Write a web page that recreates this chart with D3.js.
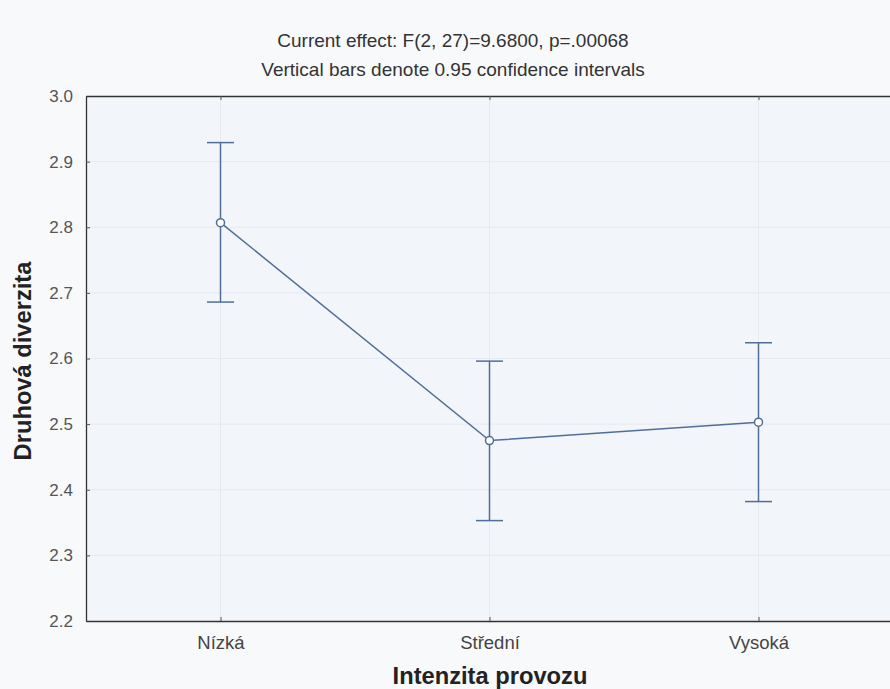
<!DOCTYPE html>
<html><head><meta charset="utf-8">
<script src="https://cdn.jsdelivr.net/npm/d3@7"></script>
<style>body{margin:0;background:#f8f9fb;}svg{display:block;}</style>
</head><body>
<svg id="c" width="890" height="689"></svg>
<script>
const categories = ["Nízká", "Střední", "Vysoká"];
const means = [2.807, 2.475, 2.503];
const upper = [2.929, 2.596, 2.624];
const lower = [2.686, 2.353, 2.382];
const yTicks = [2.2, 2.3, 2.4, 2.5, 2.6, 2.7, 2.8, 2.9, 3.0];
const titleLines = ["Current effect: F(2, 27)=9.6800, p=.00068", "Vertical bars denote 0.95 confidence intervals"];
const xTitle = "Intenzita provozu";
const yTitle = "Druhová diverzita";

const svg = d3.select("#c");
const L = 86, R = 893, T = 96, B = 621;
const font = "'Liberation Sans', Arial, sans-serif";
const lineColor = "#4f6f98";

svg.append("rect").attr("x",0).attr("y",0).attr("width",890).attr("height",689).attr("fill","#f8f9fb");
svg.append("rect").attr("x",L).attr("y",T).attr("width",R-L).attr("height",B-T).attr("fill","#f2f5fa");

const x = d3.scalePoint().domain(categories).range([L, R]).padding(0.5);
const y = d3.scaleLinear().domain([2.2, 3.0]).range([B, T]);

// grid
svg.append("g").selectAll("line").data(yTicks.slice(1,-1)).join("line")
  .attr("x1",L).attr("x2",R).attr("y1",d=>y(d)).attr("y2",d=>y(d))
  .attr("stroke","#e6e9ef").attr("stroke-width",1);
svg.append("g").selectAll("line").data(categories).join("line")
  .attr("x1",d=>x(d)).attr("x2",d=>x(d)).attr("y1",T).attr("y2",B)
  .attr("stroke","#e6e9ef").attr("stroke-width",1);

// axes
const yAxis = d3.axisLeft(y).tickValues(yTicks).tickFormat(d3.format(".1f")).tickSizeInner(-4).tickSizeOuter(0).tickPadding(13);
const gy = svg.append("g").attr("transform",`translate(${L},0)`).call(yAxis);
gy.select(".domain").attr("stroke","#333").attr("stroke-width",1.3);
gy.selectAll(".tick line").attr("stroke","#555");
gy.selectAll("text").attr("font-family",font).attr("font-size",17).attr("fill","#555");

const xAxis = d3.axisBottom(x).tickSizeInner(-4).tickSizeOuter(0).tickPadding(15);
const gx = svg.append("g").attr("transform",`translate(0,${B})`).call(xAxis);
gx.select(".domain").attr("stroke","#333").attr("stroke-width",1.3);
gx.selectAll(".tick line").attr("stroke","#555");
gx.selectAll("text").attr("font-family",font).attr("font-size",18.5).attr("fill","#444");

const xTop = d3.axisTop(x).tickSizeInner(-4).tickSizeOuter(0).tickFormat("");
const gt = svg.append("g").attr("transform",`translate(0,${T})`).call(xTop);
gt.select(".domain").attr("stroke","#333").attr("stroke-width",1.3);
gt.selectAll(".tick line").attr("stroke","#555");

// error bars
const cap = 13.5;
const eb = svg.append("g").attr("stroke",lineColor).attr("stroke-width",1.5);
categories.forEach((c,i)=>{
  eb.append("line").attr("x1",x(c)).attr("x2",x(c)).attr("y1",y(upper[i])).attr("y2",y(lower[i]));
  eb.append("line").attr("x1",x(c)-cap).attr("x2",x(c)+cap).attr("y1",y(upper[i])).attr("y2",y(upper[i]));
  eb.append("line").attr("x1",x(c)-cap).attr("x2",x(c)+cap).attr("y1",y(lower[i])).attr("y2",y(lower[i]));
});

// line
const data = categories.map((c,i)=>({c, v:means[i]}));
svg.append("path").datum(data).attr("fill","none").attr("stroke",lineColor).attr("stroke-width",1.5)
  .attr("d", d3.line().x(d=>x(d.c)).y(d=>y(d.v)));
svg.append("g").selectAll("circle").data(data).join("circle")
  .attr("cx",d=>x(d.c)).attr("cy",d=>y(d.v)).attr("r",4)
  .attr("fill","#fff").attr("stroke",lineColor).attr("stroke-width",1.5);

// titles
svg.append("g").selectAll("text").data(titleLines).join("text")
  .attr("x",453).attr("y",(d,i)=>47+i*29).attr("text-anchor","middle")
  .attr("font-family",font).attr("font-size",19).attr("fill","#333").text(d=>d);

svg.append("text").attr("x",490).attr("y",684).attr("text-anchor","middle")
  .attr("font-family",font).attr("font-size",23.7).attr("font-weight","bold").attr("fill","#222").text(xTitle);
svg.append("text").attr("transform","translate(31,361) rotate(-90)").attr("text-anchor","middle")
  .attr("font-family",font).attr("font-size",23.7).attr("font-weight","bold").attr("fill","#222").text(yTitle);
</script>
</body></html>
